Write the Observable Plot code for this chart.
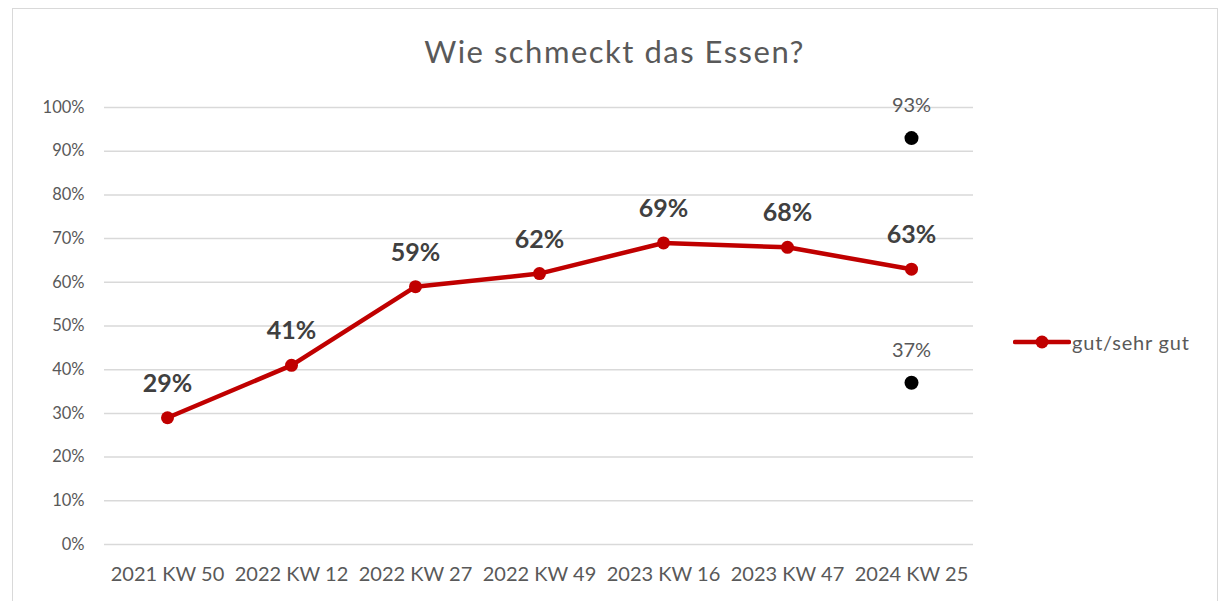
<!DOCTYPE html>
<html>
<head>
<meta charset="utf-8">
<script src="https://cdn.jsdelivr.net/npm/d3@7"></script>
<script src="https://cdn.jsdelivr.net/npm/@observablehq/plot@0.6"></script>
<style>
  html, body { margin: 0; padding: 0; background: #fff; }
  #wrap { position: relative; width: 1229px; height: 601px; overflow: hidden; font-family: Lato, "Open Sans", sans-serif; }
  #frame { position: absolute; left: 12px; top: 8px; width: 1206px; height: 600px; border: 1.5px solid #d9d9d9; box-sizing: border-box; }
  #title { position: absolute; left: 0; width: 1229px; top: 32px; text-align: center; font-size: 31px; letter-spacing: 1.5px; color: #595959; }
  #chart { position: absolute; left: 0; top: 0; }
  #legend { position: absolute; left: 1013px; top: 330px; display: flex; align-items: center; font-size: 20px; letter-spacing: 0.8px; color: #595959; }
</style>
</head>
<body>
<div id="wrap">
  <div id="frame"></div>
  <div id="chart"></div>
  <div id="title">Wie schmeckt das Essen?</div>
  <div id="legend">
    <svg width="58" height="24"><line x1="2" y1="12" x2="56" y2="12" stroke="#C00000" stroke-width="4.5" stroke-linecap="round"/><circle cx="29" cy="12" r="6.5" fill="#C00000"/></svg>
    <span style="margin-left:1px">gut/sehr gut</span>
  </div>
</div>
<script>
const categories = ["2021 KW 50", "2022 KW 12", "2022 KW 27", "2022 KW 49", "2023 KW 16", "2023 KW 47", "2024 KW 25"];
const values = [29, 41, 59, 62, 69, 68, 63];
const seriesName = "gut/sehr gut";
const extraCategories = ["2024 KW 25", "2024 KW 25"];
const extraValues = [93, 37];
const yTicks = [0, 10, 20, 30, 40, 50, 60, 70, 80, 90, 100];

const main = categories.map((c, i) => ({cat: c, v: values[i], series: seriesName}));
const extra = extraCategories.map((c, i) => ({cat: c, v: extraValues[i]}));

const chart = Plot.plot({
  width: 1229,
  height: 601,
  marginLeft: 104,
  marginRight: 256,
  marginTop: 107,
  marginBottom: 57,
  style: { fontFamily: "Lato, 'Open Sans', sans-serif", fontSize: "17px", color: "#595959", background: "transparent" },
  x: { type: "band", domain: categories, padding: 0, label: null, tickSize: 0, tickPadding: 22 },
  y: { domain: [0, 100], ticks: yTicks, tickFormat: d => d + "%", label: null, tickSize: 0, tickPadding: 20 },
  marks: [
    Plot.gridY(yTicks, { stroke: "#d9d9d9", strokeOpacity: 1, strokeWidth: 1.5 }),
    Plot.axisY(yTicks, { tickSize: 0, tickPadding: 20, tickFormat: d => d + "%", fill: "#595959", fontSize: 16.5, label: null }),
    Plot.axisX({ tickSize: 0, tickPadding: 22, fill: "#595959", fontSize: 20, label: null, style: { letterSpacing: "0.5px" } }),
    Plot.line(main, { x: "cat", y: "v", stroke: "#C00000", strokeWidth: 4.5 }),
    Plot.dot(main, { x: "cat", y: "v", r: 6.5, fill: "#C00000", stroke: null }),
    Plot.text(main, { x: "cat", y: "v", text: d => d.v + "%", dy: -34, fontSize: 25, fontWeight: "bold", fill: "#404040", style: { letterSpacing: "1.5px" } }),
    Plot.dot(extra, { x: "cat", y: "v", r: 7, fill: "#000", stroke: null }),
    Plot.text(extra, { x: "cat", y: "v", text: d => d.v + "%", dy: -32, fontSize: 20, fill: "#595959", style: { letterSpacing: "0.8px" } })
  ]
});
document.getElementById("chart").appendChild(chart);
</script>
</body>
</html>
